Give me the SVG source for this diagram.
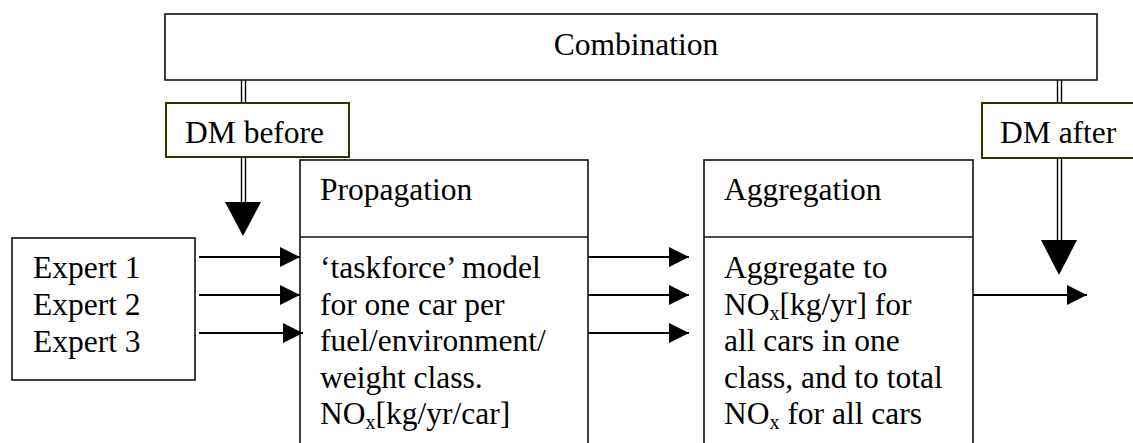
<svg xmlns="http://www.w3.org/2000/svg" width="1133" height="443" viewBox="0 0 1133 443">
<style>
text{font-family:"Liberation Serif","Times New Roman",serif;font-size:31.5px;fill:#000}
.box{fill:#fff;stroke:#111;stroke-width:1.6}
.dm{fill:#fff;stroke:#333300;stroke-width:2}
.ln{stroke:#000;stroke-width:1.8;fill:none}
.dl{stroke:#000;stroke-width:1.4;fill:none}
.sub{font-size:20px}
</style>
<defs>
<marker id="ah" markerWidth="20" markerHeight="20" refX="20" refY="10" orient="auto" markerUnits="userSpaceOnUse" viewBox="0 0 20 20">
<path d="M0,0 L20,10 L0,20 Z" fill="#000"/>
</marker>
</defs>
<g id="combination">
<rect class="box" x="165" y="14" width="932" height="66"/>
<text x="636" y="55" text-anchor="middle">Combination</text>
</g>
<g id="dm-before">
<rect class="dm" x="166" y="103" width="183" height="54"/>
<text x="185" y="143">DM before</text>
</g>
<g id="dm-after">
<rect class="dm" x="982" y="103" width="160" height="55"/>
<text x="1000" y="143">DM after</text>
</g>
<g id="experts">
<rect class="box" x="12" y="238" width="183" height="142"/>
<text x="33" y="278">Expert 1</text>
<text x="33" y="315">Expert 2</text>
<text x="33" y="352">Expert 3</text>
</g>
<g id="propagation">
<rect class="box" x="300" y="160" width="288" height="300"/>
<line class="box" x1="300" y1="237" x2="588" y2="237"/>
<text x="320" y="200">Propagation</text>
<text x="320" y="278">‘taskforce’ model</text>
<text x="320" y="315">for one car per</text>
<text x="320" y="351">fuel/environment/</text>
<text x="320" y="388">weight class.</text>
<text x="320" y="424">NO<tspan class="sub" dy="5">x</tspan><tspan dy="-5">[kg/yr/car]</tspan></text>
</g>
<g id="aggregation">
<rect class="box" x="704" y="160" width="269" height="300"/>
<line class="box" x1="704" y1="237" x2="973" y2="237"/>
<text x="724" y="200">Aggregation</text>
<text x="724" y="278">Aggregate to</text>
<text x="724" y="315">NO<tspan class="sub" dy="5">x</tspan><tspan dy="-5">[kg/yr] for</tspan></text>
<text x="724" y="351">all cars in one</text>
<text x="724" y="388">class, and to total</text>
<text x="724" y="424">NO<tspan class="sub" dy="5">x</tspan><tspan dy="-5"> for all cars</tspan></text>
</g>
<g id="connectors">
<line class="dl" x1="241.5" y1="80" x2="241.5" y2="103"/>
<line class="dl" x1="245.5" y1="80" x2="245.5" y2="103"/>
<line class="dl" x1="241.5" y1="157" x2="241.5" y2="204"/>
<line class="dl" x1="245.5" y1="157" x2="245.5" y2="204"/>
<path d="M225,202 L261,202 L243,236 Z" fill="#000"/>
<line class="dl" x1="1057.5" y1="80" x2="1057.5" y2="103"/>
<line class="dl" x1="1061.5" y1="80" x2="1061.5" y2="103"/>
<line class="dl" x1="1057.5" y1="158" x2="1057.5" y2="242"/>
<line class="dl" x1="1061.5" y1="158" x2="1061.5" y2="242"/>
<path d="M1041,240 L1077,240 L1059,275 Z" fill="#000"/>
<line class="ln" x1="199" y1="257" x2="300" y2="257" marker-end="url(#ah)"/>
<line class="ln" x1="199" y1="295" x2="300" y2="295" marker-end="url(#ah)"/>
<line class="ln" x1="199" y1="333" x2="303" y2="333" marker-end="url(#ah)"/>
<line class="ln" x1="588" y1="257" x2="689" y2="257" marker-end="url(#ah)"/>
<line class="ln" x1="588" y1="295" x2="689" y2="295" marker-end="url(#ah)"/>
<line class="ln" x1="588" y1="333" x2="689" y2="333" marker-end="url(#ah)"/>
<line class="ln" x1="973" y1="295" x2="1087" y2="295" marker-end="url(#ah)"/>
</g>
</svg>
